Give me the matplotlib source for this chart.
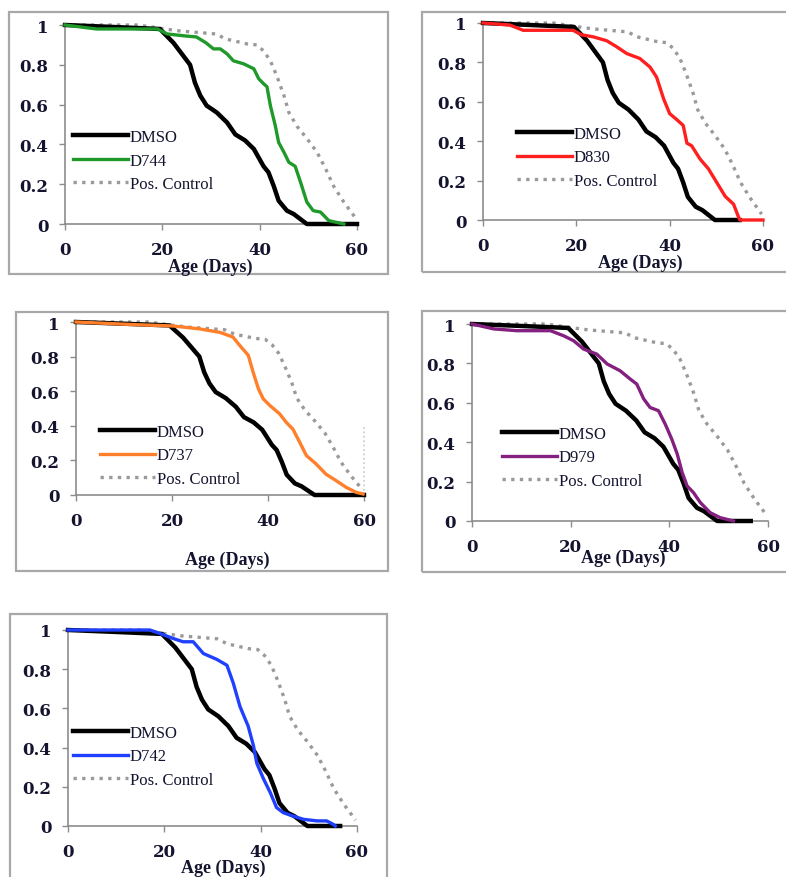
import matplotlib.pyplot as plt
from matplotlib.patches import Rectangle

plt.rcParams['font.family'] = ['Liberation Serif', 'DejaVu Serif']

W, H = 786, 878

# survival curves (age in days, fraction alive)
dmso_x = [0, 10, 19.5, 22.3, 24, 25.7, 26.7, 27.8, 29.1, 31.2, 33.3, 35, 37, 38.8,
          40.8, 41.8, 42.9, 43.9, 45.6, 47, 49.7]
dmso_y = [1, 0.99, 0.98, 0.91, 0.855, 0.8, 0.71, 0.645, 0.595, 0.56, 0.51, 0.45, 0.42,
          0.377, 0.29, 0.26, 0.19, 0.117, 0.067, 0.05, 0]

pos_x = [0, 15, 20.5, 23.6, 31, 33, 37.4, 39.4, 40.8, 42.2, 43.5, 45, 46, 47.7, 49.7,
         51.8, 53.5, 55.2, 57.3, 59.7]
pos_y = [1, 1, 0.98, 0.97, 0.955, 0.93, 0.905, 0.9, 0.87, 0.82, 0.745, 0.645, 0.56,
         0.49, 0.43, 0.36, 0.28, 0.19, 0.11, 0.03]

d744_x = [0, 6.5, 19, 21, 24.7, 27, 29, 30.5, 31.9, 33.3, 34.6, 36.7, 38.8, 39.8, 40.8,
          41.5, 42.2, 43.2, 43.9, 45, 46, 47.3, 48.4, 49.7, 51, 52.5, 54.2, 57.3]
d744_y = [1, 0.98, 0.98, 0.955, 0.945, 0.94, 0.91, 0.88, 0.88, 0.855, 0.82, 0.805, 0.78,
          0.73, 0.705, 0.69, 0.595, 0.495, 0.41, 0.36, 0.31, 0.29, 0.21, 0.11, 0.067,
          0.06, 0.017, 0]

d830_x = [0, 5.7, 8.6, 19.3, 21.1, 23.6, 26.5, 28.6, 30.8, 33.6, 35.8, 37.2, 38.7, 40,
          41.5, 42.9, 43.7, 44.7, 46.5, 48.3, 50.1, 51.9, 53.7, 54.8, 55.1, 60]
d830_y = [1, 0.99, 0.963, 0.963, 0.94, 0.93, 0.91, 0.88, 0.845, 0.82, 0.776, 0.725,
          0.615, 0.54, 0.51, 0.48, 0.39, 0.377, 0.31, 0.26, 0.19, 0.12, 0.08, 0.012, 0, 0]

d737_x = [0, 11.9, 20.2, 25.8, 30, 32.7, 34.1, 35.9, 36.9, 38, 39, 40.4, 42.4, 43.8,
          45.2, 46.6, 48, 50, 52.1, 54.2, 56.3, 58.4, 59.8]
d737_y = [1, 0.985, 0.977, 0.96, 0.94, 0.913, 0.865, 0.807, 0.71, 0.614, 0.556, 0.517,
          0.47, 0.42, 0.38, 0.305, 0.228, 0.18, 0.12, 0.083, 0.044, 0.015, 0.006]

d979_x = [0, 4.4, 9.1, 15.9, 18.6, 20.6, 22.6, 25.3, 27.4, 30, 32.1, 33.4, 34.8, 36.1,
          37.8, 39.2, 40.5, 41.6, 42.6, 43.6, 44.9, 46.3, 48.3, 50.3, 53]
d979_y = [1, 0.975, 0.966, 0.966, 0.94, 0.915, 0.873, 0.847, 0.797, 0.763, 0.72, 0.695,
          0.62, 0.576, 0.56, 0.49, 0.415, 0.34, 0.246, 0.178, 0.144, 0.093, 0.042,
          0.017, 0]

d742_x = [0, 17, 19, 21.8, 23.9, 26, 28.1, 30.9, 33, 34.3, 35.7, 36.8, 37.4, 38.5, 39.2,
          40.6, 42, 43.3, 44.7, 46.8, 48.9, 51.7, 53.7, 55.1, 55.5]
d742_y = [1, 1, 0.983, 0.957, 0.94, 0.94, 0.88, 0.85, 0.82, 0.73, 0.61, 0.545, 0.51,
          0.41, 0.32, 0.24, 0.17, 0.094, 0.068, 0.05, 0.034, 0.026, 0.026, 0.008, 0]

drugs = ['D744', 'D830', 'D737', 'D979', 'D742']
drug_x = [d744_x, d830_x, d737_x, d979_x, d742_x]
drug_y = [d744_y, d830_y, d737_y, d979_y, d742_y]
dmso_end = [60, 55, 60, 56.5, 56.5]
colors = ['#1f9a2a', '#ff1f1f', '#ff7f2a', '#84207f', '#2040ff']

x_ticks = [0, 20, 40, 60]
y_ticks = [0, 0.2, 0.4, 0.6, 0.8, 1]
y_labels = ['0', '0.2', '0.4', '0.6', '0.8', '1']

# layout in pixels: axes (left, top, right, bottom), frame, legend anchor, xlabel
axes_px = [(65, 26, 357, 225), (483, 24, 763, 221), (76, 323, 364, 496),
           (472, 325, 768, 522), (68, 631, 357, 827)]
frame_px = [(9, 13, 388, 275), (422, 13, 790, 273), (16, 313, 388, 572),
            (422, 312, 790, 573), (10, 615, 387, 885)]
legend_px = [(73, 130), (517, 127), (100, 425), (502, 427), (73, 726)]
xlabel_px = [(210, 267), (640, 263), (227, 560), (623, 558), (223, 868)]

ink = '#141430'

fig = plt.figure(figsize=(W / 100, H / 100), dpi=100)

for i in range(5):
    fl, ft, fr, fb = frame_px[i]
    fig.patches.append(Rectangle((fl / W, 1 - fb / H), (fr - fl) / W, (fb - ft) / H,
                                 transform=fig.transFigure, fill=False,
                                 edgecolor='#a8a8a8', linewidth=1.6))
    l, t, r, b = axes_px[i]
    ax = fig.add_axes([l / W, 1 - b / H, (r - l) / W, (b - t) / H])
    ax.plot(dmso_x + [dmso_end[i]], dmso_y + [0], color='black', lw=3.2,
            label='DMSO', clip_on=False, zorder=3)
    ax.plot(drug_x[i], drug_y[i], color=colors[i], lw=2.4, label=drugs[i],
            clip_on=False, zorder=4)
    ax.plot(pos_x, pos_y, color='#9a9a9a', lw=2.4, linestyle=(0, (1, 1.6)),
            label='Pos. Control', clip_on=False, zorder=2)
    if i == 2:
        ax.plot([60, 60], [0, 0.4], color='#c8c8c8', lw=1.2, linestyle=':',
                clip_on=False)
    ax.set_xlim(0, 60)
    ax.set_ylim(0, 1)
    ax.set_xticks(x_ticks)
    ax.set_yticks(y_ticks)
    ax.set_yticklabels(y_labels)
    for s in ['top', 'right']:
        ax.spines[s].set_visible(False)
    for s in ['left', 'bottom']:
        ax.spines[s].set_color('#8c8c8c')
        ax.spines[s].set_linewidth(1.2)
    ax.tick_params(colors='#8c8c8c', length=4, width=1, pad=8, labelcolor=ink)
    for lab in ax.get_xticklabels() + ax.get_yticklabels():
        lab.set_family('DejaVu Serif')
        lab.set_fontweight('bold')
        lab.set_fontsize(12)
    lx, ly = legend_px[i]
    ax.legend(loc='upper left', bbox_to_anchor=(lx / W, 1 - ly / H),
              bbox_transform=fig.transFigure, frameon=False, fontsize=12,
              handlelength=3.3, handletextpad=0.1, labelspacing=0.45,
              borderpad=0, borderaxespad=0, labelcolor=ink)
    tx, ty = xlabel_px[i]
    fig.text(tx / W, 1 - ty / H, 'Age (Days)', ha='center', va='center',
             fontsize=13, fontweight='bold', color=ink)

fig.savefig('out.png', dpi=100)
